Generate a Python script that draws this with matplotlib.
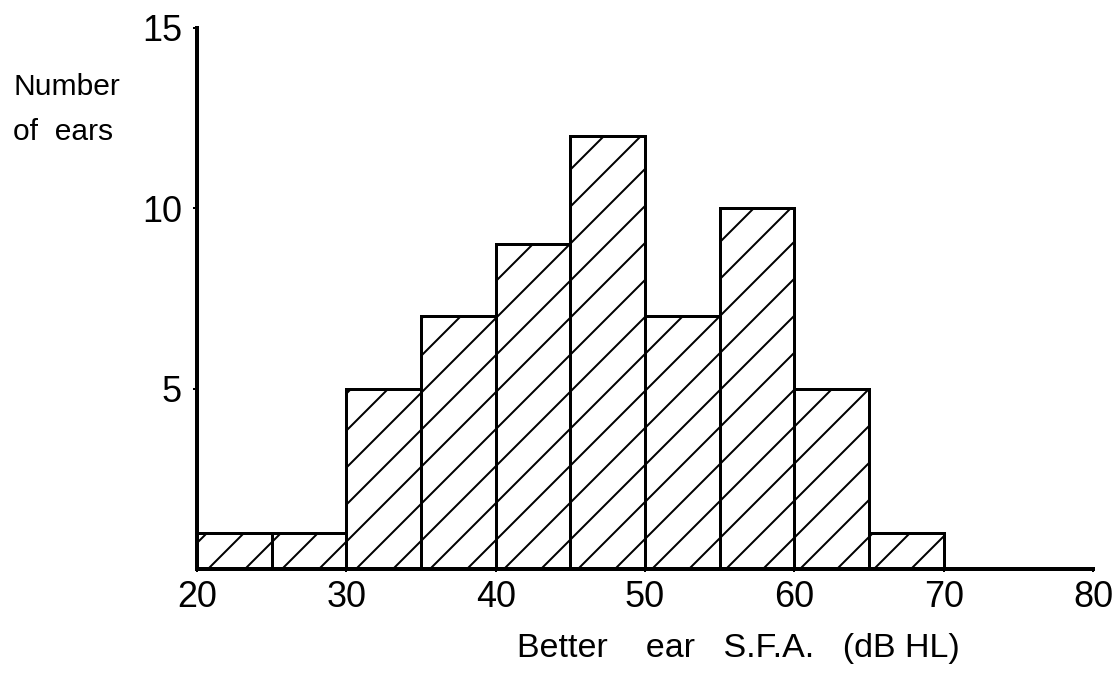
import matplotlib
matplotlib.use("Agg")
import matplotlib.pyplot as plt

# Data
bin_edges = [20, 25, 30, 35, 40, 45, 50, 55, 60, 65]
counts = [1, 1, 5, 7, 9, 12, 7, 10, 5, 1]
bin_width = 5
x_ticks = [20, 30, 40, 50, 60, 70, 80]
y_ticks = [5, 10, 15]
x_label = "Better    ear   S.F.A.   (dB HL)"
y_label_lines = ["Number", "of  ears"]

FONT = ["Liberation Sans", "DejaVu Sans"]
plt.rcParams["font.family"] = FONT

W, H = 1115, 674
DPI = 111  # chosen so the default '/' hatch spacing matches the reference
def pt(px):
    return px * 72.0 / DPI

plt.rcParams["hatch.color"] = "black"
plt.rcParams["hatch.linewidth"] = pt(2)

fig = plt.figure(figsize=(W / DPI, H / DPI), dpi=DPI)
x0, x1 = 197, 1093
y0, y1 = 569, 27.5
ax = fig.add_axes([x0 / W, 1 - y0 / H, (x1 - x0) / W, (y0 - y1) / H])

ax.bar(bin_edges, counts, width=bin_width, align="edge", fill=False,
       hatch="/", edgecolor="black", linewidth=pt(3), zorder=2)

ax.set_xlim(20, 80)
ax.set_ylim(0, 15)
ax.set_xticks(x_ticks)
ax.set_yticks(y_ticks)
ax.tick_params(axis="x", length=pt(3), width=pt(2), pad=pt(8), labelsize=pt(36))
ax.tick_params(axis="y", length=pt(4), width=pt(2), pad=pt(11), labelsize=pt(36))
for s in ["top", "right"]:
    ax.spines[s].set_visible(False)
for s in ["left", "bottom"]:
    ax.spines[s].set_linewidth(pt(4))
    ax.spines[s].set_zorder(3)

fig.text(13 / W, 1 - 95 / H, y_label_lines[0], ha="left", va="baseline", fontsize=pt(30))
fig.text(13 / W, 1 - 140 / H, y_label_lines[1], ha="left", va="baseline", fontsize=pt(30))
fig.text(960 / W, 1 - 657 / H, x_label, ha="right", va="baseline", fontsize=pt(34))

fig.savefig("out.png", dpi=DPI, facecolor="white")
